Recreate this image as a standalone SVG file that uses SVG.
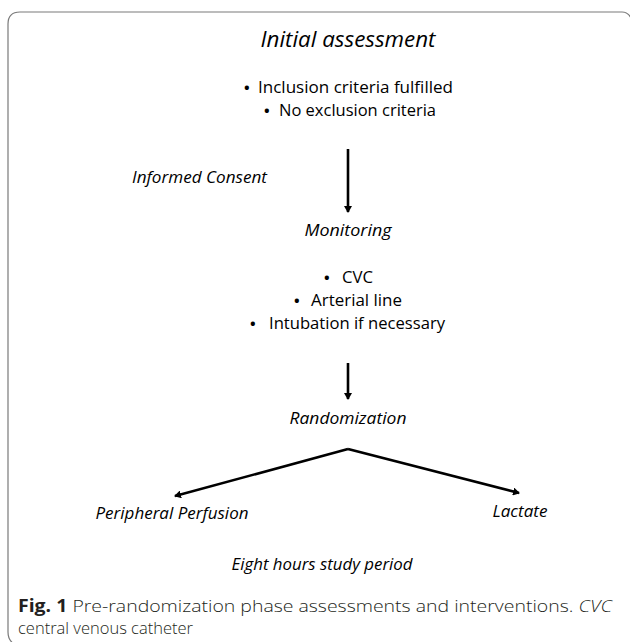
<svg xmlns="http://www.w3.org/2000/svg" width="630" height="642" viewBox="0 0 630 642">
<style>
.t{font-family:"Open Sans","Liberation Sans",sans-serif;fill:#000;}
.i{font-style:italic;}
.h{font-size:22px;}
.n{font-size:16.5px;}
.b{font-size:15px;font-weight:700;}
.cap{font-family:"Open Sans","Liberation Sans",sans-serif;font-size:17px;fill:#231f20;font-weight:300;}
.frame{fill:none;stroke:#7a7a7a;stroke-width:1.2;}
.c{stroke:#000;stroke-width:2.6;fill:none;}
</style>
<defs>
<marker id="ah" markerWidth="8" markerHeight="8" refX="6" refY="4" orient="auto" markerUnits="userSpaceOnUse">
<path d="M0,0 L7,4 L0,8 Z" fill="#000"/>
</marker>
</defs>
<rect width="630" height="642" fill="#fff"/>
<path class="frame" d="M14,644 Q8,640 8,632 L8,24 Q8,12 20,12 L622,12 Q628,12 631,18"/>
<g id="connectors">
<line class="c" x1="348" y1="149" x2="348" y2="212" marker-end="url(#ah)"/>
<line class="c" x1="348" y1="363" x2="348" y2="399" marker-end="url(#ah)"/>
<polyline class="c" points="348,449 175,496" marker-end="url(#ah)"/>
<polyline class="c" points="348,449 519,493" marker-end="url(#ah)"/>
</g>
<g id="initial">
<text class="t i h" x="348" y="47" text-anchor="middle" textLength="175" lengthAdjust="spacingAndGlyphs">Initial assessment</text>
<text class="t b" x="244" y="93">•</text>
<text class="t n" x="258" y="93" textLength="195" lengthAdjust="spacingAndGlyphs">Inclusion criteria fulfilled</text>
<text class="t b" x="264" y="116">•</text>
<text class="t n" x="279" y="116" textLength="157" lengthAdjust="spacingAndGlyphs">No exclusion criteria</text>
</g>
<g id="consent">
<text class="t i n" x="132" y="183" textLength="135" lengthAdjust="spacingAndGlyphs">Informed Consent</text>
</g>
<g id="monitoring">
<text class="t i n" x="348" y="236" text-anchor="middle" textLength="87" lengthAdjust="spacingAndGlyphs">Monitoring</text>
<text class="t b" x="324" y="283">•</text>
<text class="t n" x="342" y="283" textLength="31" lengthAdjust="spacingAndGlyphs">CVC</text>
<text class="t b" x="294" y="306">•</text>
<text class="t n" x="311" y="306" textLength="91" lengthAdjust="spacingAndGlyphs">Arterial line</text>
<text class="t b" x="250" y="329">•</text>
<text class="t n" x="269" y="329" textLength="176" lengthAdjust="spacingAndGlyphs">Intubation if necessary</text>
</g>
<g id="randomization">
<text class="t i n" x="348" y="424" text-anchor="middle" textLength="117" lengthAdjust="spacingAndGlyphs">Randomization</text>
</g>
<g id="peripheral">
<text class="t i n" x="172" y="519" text-anchor="middle" textLength="153" lengthAdjust="spacingAndGlyphs">Peripheral Perfusion</text>
</g>
<g id="lactate">
<text class="t i n" x="520" y="517" text-anchor="middle" textLength="55" lengthAdjust="spacingAndGlyphs">Lactate</text>
</g>
<g id="period">
<text class="t i n" x="322" y="570" text-anchor="middle" textLength="181" lengthAdjust="spacingAndGlyphs">Eight hours study period</text>
</g>
<g id="caption">
<text class="cap" x="18" y="612" textLength="594" lengthAdjust="spacingAndGlyphs"><tspan font-weight="700">Fig. 1</tspan>  Pre-randomization phase assessments and interventions. <tspan font-style="italic">CVC</tspan></text>
<text class="cap" x="18" y="634" textLength="175" lengthAdjust="spacingAndGlyphs">central venous catheter</text>
</g>
</svg>
